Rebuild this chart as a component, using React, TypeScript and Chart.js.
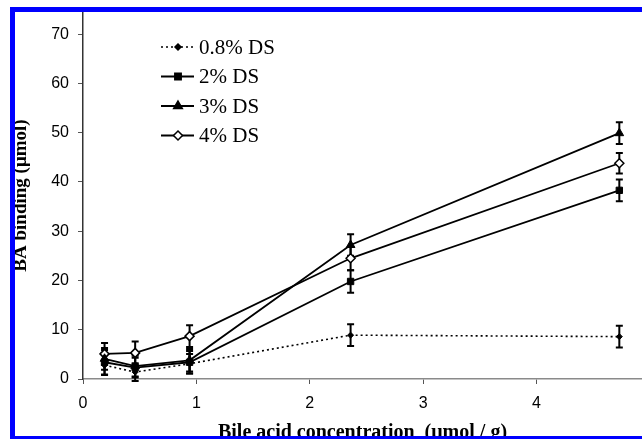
import React, { useEffect, useRef } from "react";
import { Chart, registerables } from "chart.js";

Chart.register(...registerables);

// ---- data ----
const concentrations = [0.19, 0.46, 0.94, 2.36, 4.73];
const seriesLabels = ["0.8% DS", "2% DS", "3% DS", "4% DS"];
const binding08 = [2.8, 1.4, 3.1, 8.9, 8.6];
const error08 = [2.0, 1.8, 2.0, 2.2, 2.2];
const binding2 = [3.4, 2.3, 3.4, 19.8, 38.3];
const error2 = [2.5, 2.0, 2.3, 2.3, 2.2];
const binding3 = [4.1, 2.6, 3.8, 27.2, 49.9];
const error3 = [2.2, 2.1, 2.3, 2.2, 2.2];
const binding4 = [5.1, 5.3, 8.7, 24.5, 43.8];
const error4 = [2.2, 2.3, 2.2, 2.4, 2.1];
const xTickValues = [0, 1, 2, 3, 4];
const yTickValues = [0, 10, 20, 30, 40, 50, 60, 70];
const xAxisTitle = "Bile acid concentration  (μmol / g)";
const yAxisTitle = "BA binding (μmol)";

const toPoints = (ys: number[]) => concentrations.map((x, i) => ({ x, y: ys[i] }));

const errorBarPlugin = {
  id: "errorBars",
  beforeDatasetsDraw(chart: any) {
    const { ctx } = chart;
    const xs = chart.scales.x;
    const ys = chart.scales.y;
    ctx.save();
    ctx.strokeStyle = "#000";
    ctx.lineWidth = 2;
    chart.data.datasets.forEach((ds: any) => {
      const errs: number[] = ds.errors || [];
      ds.data.forEach((pt: any, j: number) => {
        const e = errs[j];
        if (!e) return;
        const px = xs.getPixelForValue(pt.x);
        const top = ys.getPixelForValue(pt.y + e);
        const bot = ys.getPixelForValue(pt.y - e);
        ctx.beginPath();
        ctx.moveTo(px, top);
        ctx.lineTo(px, bot);
        ctx.moveTo(px - 3.5, top);
        ctx.lineTo(px + 3.5, top);
        ctx.moveTo(px - 3.5, bot);
        ctx.lineTo(px + 3.5, bot);
        ctx.stroke();
      });
    });
    ctx.restore();
  },
};

function drawMarker(ctx: CanvasRenderingContext2D, style: string, r: number, fill: string, x: number, y: number) {
  ctx.beginPath();
  if (style === "rect") {
    const s = r * Math.SQRT1_2;
    ctx.rect(x - s, y - s, 2 * s, 2 * s);
  } else if (style === "triangle") {
    ctx.moveTo(x, y - r);
    ctx.lineTo(x + r * 0.866, y + r * 0.5);
    ctx.lineTo(x - r * 0.866, y + r * 0.5);
    ctx.closePath();
  } else {
    ctx.moveTo(x, y - r);
    ctx.lineTo(x + r, y);
    ctx.lineTo(x, y + r);
    ctx.lineTo(x - r, y);
    ctx.closePath();
  }
  ctx.fillStyle = fill;
  ctx.fill();
  ctx.strokeStyle = "#000";
  ctx.lineWidth = 1.5;
  ctx.stroke();
}

const legendPlugin = {
  id: "customLegend",
  afterDraw(chart: any) {
    const { ctx, chartArea } = chart;
    const x0 = chartArea.left + 78;
    const y0 = chartArea.top + 35;
    const rowH = 29.5;
    ctx.save();
    chart.data.datasets.forEach((ds: any, i: number) => {
      const y = y0 + i * rowH;
      ctx.beginPath();
      ctx.strokeStyle = "#000";
      ctx.lineWidth = ds.borderWidth;
      ctx.setLineDash(ds.borderDash || []);
      ctx.moveTo(x0, y);
      ctx.lineTo(x0 + 33, y);
      ctx.stroke();
      ctx.setLineDash([]);
      drawMarker(ctx, ds.pointStyle, ds.pointRadius, ds.pointBackgroundColor, x0 + 17, y);
      ctx.fillStyle = "#000";
      ctx.font = "21px 'Liberation Serif', 'Times New Roman', serif";
      ctx.textBaseline = "middle";
      ctx.textAlign = "left";
      ctx.fillText(seriesLabels[i], x0 + 38, y + 1);
    });
    ctx.restore();
  },
};

export default function App() {
  const canvasRef = useRef<HTMLCanvasElement | null>(null);

  useEffect(() => {
    if (!canvasRef.current) return;
    const common = {
      borderColor: "#000",
      pointBorderColor: "#000",
      showLine: true,
      tension: 0,
    };
    const chart = new Chart(canvasRef.current, {
      type: "line",
      data: {
        datasets: [
          {
            ...common,
            label: seriesLabels[0],
            data: toPoints(binding08),
            errors: error08,
            borderWidth: 1.6,
            borderDash: [2, 3],
            pointStyle: "rectRot",
            pointRadius: 3,
            pointBorderWidth: 1,
            pointBackgroundColor: "#000",
            backgroundColor: "#000",
          } as any,
          {
            ...common,
            label: seriesLabels[1],
            data: toPoints(binding2),
            errors: error2,
            borderWidth: 1.8,
            pointStyle: "rect",
            pointRadius: 4.5,
            pointBorderWidth: 1,
            pointBackgroundColor: "#000",
            backgroundColor: "#000",
          } as any,
          {
            ...common,
            label: seriesLabels[2],
            data: toPoints(binding3),
            errors: error3,
            borderWidth: 1.8,
            pointStyle: "triangle",
            pointRadius: 5,
            pointBorderWidth: 1,
            pointBackgroundColor: "#000",
            backgroundColor: "#000",
          } as any,
          {
            ...common,
            label: seriesLabels[3],
            data: toPoints(binding4),
            errors: error4,
            borderWidth: 1.8,
            pointStyle: "rectRot",
            pointRadius: 4.5,
            pointBorderWidth: 1.5,
            pointBackgroundColor: "#fff",
            backgroundColor: "#fff",
          } as any,
        ],
      },
      options: {
        animation: false,
        responsive: false,
        events: [],
        layout: { autoPadding: false, padding: { left: 0, top: 12, right: 0, bottom: 0 } },
        plugins: {
          legend: { display: false },
          tooltip: { enabled: false },
        },
        scales: {
          x: {
            type: "linear",
            min: 0,
            max: 4.93,
            afterFit(scale: any) {
              scale.height = 81;
              scale.paddingLeft = 0;
              scale.paddingRight = 0;
            },
            afterBuildTicks(scale: any) {
              scale.ticks = xTickValues.map((v) => ({ value: v }));
            },
            border: { display: true, color: "#8a8a8a", width: 1.5 },
            grid: {
              display: true,
              drawOnChartArea: false,
              drawTicks: true,
              tickLength: 5,
              color: "#555",
              lineWidth: 1,
            },
            ticks: {
              includeBounds: false,
              padding: 10,
              color: "#000",
              font: { family: "'Liberation Sans', Arial, sans-serif", size: 16 },
              maxRotation: 0,
            },
            title: {
              display: true,
              text: xAxisTitle,
              color: "#000",
              font: { family: "'Liberation Serif', 'Times New Roman', serif", size: 20, weight: "bold" },
              padding: { top: 0, bottom: 15 },
            },
          },
          y: {
            type: "linear",
            min: 0,
            max: 74.5,
            afterFit(scale: any) {
              scale.width = 83;
              scale.paddingTop = 0;
              scale.paddingBottom = 0;
            },
            afterBuildTicks(scale: any) {
              scale.ticks = yTickValues.map((v) => ({ value: v }));
            },
            border: { display: true, color: "#333", width: 1.5 },
            grid: {
              display: true,
              drawOnChartArea: false,
              drawTicks: true,
              tickLength: 5,
              color: "#555",
              lineWidth: 1,
            },
            ticks: {
              includeBounds: false,
              padding: 9,
              color: "#000",
              font: { family: "'Liberation Sans', Arial, sans-serif", size: 16 },
            },
            title: {
              display: true,
              text: yAxisTitle,
              color: "#000",
              font: { family: "'Liberation Serif', 'Times New Roman', serif", size: 19, weight: "bold" },
              padding: { top: 10, bottom: 0 },
            },
          },
        },
      } as any,
      plugins: [errorBarPlugin, legendPlugin],
    });
    return () => chart.destroy();
  }, []);

  return (
    <div
      style={{
        position: "absolute",
        left: 0,
        top: 0,
        width: 642,
        height: 439,
        overflow: "hidden",
        background: "#fff",
      }}
    >
      <canvas
        ref={canvasRef}
        width={642}
        height={460}
        style={{ position: "absolute", left: 0, top: 0, width: 642, height: 460 }}
      />
      <div style={{ position: "absolute", left: 10, top: 7, width: 632, height: 5, background: "#0000ff" }} />
      <div style={{ position: "absolute", left: 10, top: 7, width: 5, height: 432, background: "#0000ff" }} />
      <div style={{ position: "absolute", left: 10, top: 436, width: 632, height: 3, background: "#0000ff" }} />
    </div>
  );
}
